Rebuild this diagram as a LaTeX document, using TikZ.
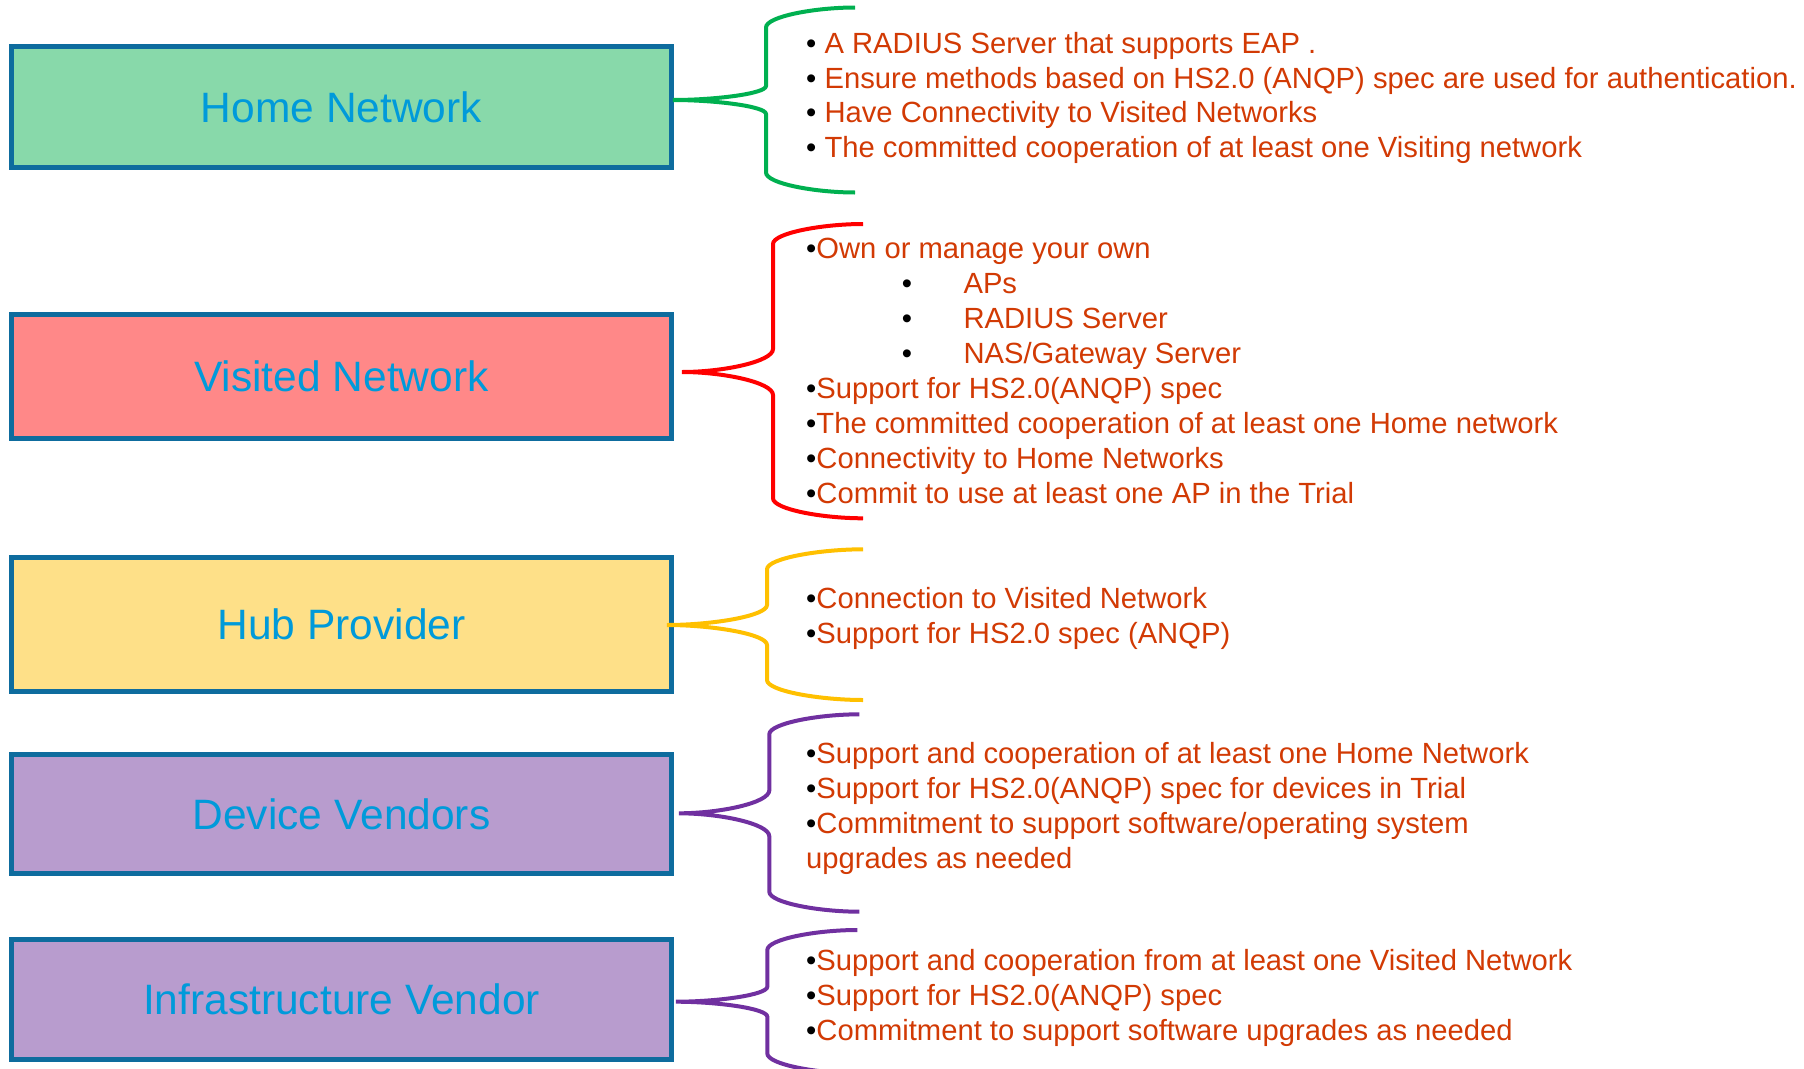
\documentclass[tikz,border=0pt]{standalone}
\usepackage{fontspec}
\setmainfont{Liberation Sans}

\definecolor{boxedge}{RGB}{14,108,158}
\definecolor{labelblue}{RGB}{0,154,218}
\definecolor{itemred}{RGB}{210,58,4}
\definecolor{homefill}{RGB}{136,217,170}
\definecolor{visitfill}{RGB}{255,136,136}
\definecolor{hubfill}{RGB}{254,224,136}
\definecolor{vendorfill}{RGB}{184,156,206}
\definecolor{bracegreen}{RGB}{0,176,80}
\definecolor{bracered}{RGB}{255,0,0}
\definecolor{braceyellow}{RGB}{255,192,0}
\definecolor{bracepurple}{RGB}{112,48,160}

% black bullet inside coloured item text
\newcommand{\itembul}{{\color{black}•}}
% indented sub-item
\newcommand{\nestedbul}[1]{\hspace*{95.7pt}\itembul\hspace*{51.4pt}#1}

% curly brace: #1 style, #2 tip name, #3/#4 tip x/y, #5 spine x,
% #6 arm end x, #7 top arm y, #8 bottom arm y, #9 radius of the middle bends
\newcommand{\curlybrace}[9]{%
  \coordinate (#2) at (#3,#4);
  \draw[#1] (#6,#7)
    .. controls ({#5+0.55*(#6-#5)},#7) and (#5,{#7+9}) .. (#5,{#7+20})
    -- (#5,{#4-#9})
    .. controls (#5,{#4-0.45*#9}) and ({#3+0.45*(#5-#3)},#4) .. (#2)
    .. controls ({#3+0.45*(#5-#3)},#4) and (#5,{#4+0.45*#9}) .. (#5,{#4+#9})
    -- (#5,{#8-20})
    .. controls (#5,{#8-9}) and ({#5+0.55*(#6-#5)},#8) .. (#6,#8);
}

\begin{document}
\begin{tikzpicture}[x=1pt,y=-1pt,
  box/.style={draw=boxedge, line width=5pt, text=labelblue, inner sep=0pt,
    minimum width=660pt, font=\fontsize{42.5}{50}\selectfont},
  items/.style={anchor=base west, inner sep=0pt, text=itemred,
    font=\fontsize{29.2}{35}\selectfont},
  bracestroke/.style={line width=4pt}]

\useasboundingbox (0,0) rectangle (1804,1068);
\fill[white] (0,0) rectangle (1804,1068);
\clip (0,0) rectangle (1804,1068);

% role boxes
\node[box, fill=homefill,   minimum height=120.2pt] (hn) at (341.5,107)   {Home Network};
\node[box, fill=visitfill,  minimum height=123.4pt] (vn) at (341.5,376.5) {Visited Network};
\node[box, fill=hubfill,    minimum height=134.3pt] (hp) at (341.5,624.7) {Hub Provider};
\node[box, fill=vendorfill, minimum height=119.5pt] (dv) at (341.5,813.8) {Device Vendors};
\node[box, fill=vendorfill, minimum height=119.4pt] (iv) at (341.5,999.5) {Infrastructure Vendor};

% requirement lists
\node[items] (hn-list) at (806,53.5) {\fontsize{29.2}{34.7}\selectfont
  \begin{tabular}[t]{@{}l@{}}
  \itembul\ A RADIUS Server that supports EAP .\\
  \itembul\ Ensure methods based on HS2.0 (ANQP) spec are used for authentication.\\
  \itembul\ Have Connectivity to Visited Networks\\
  \itembul\ The committed cooperation of at least one Visiting network
  \end{tabular}};

\node[items] (vn-list) at (806,258.6) {%
  \begin{tabular}[t]{@{}l@{}}
  \itembul Own or manage your own\\
  \nestedbul{APs}\\
  \nestedbul{RADIUS Server}\\
  \nestedbul{NAS/Gateway Server}\\
  \itembul Support for HS2.0(ANQP) spec\\
  \itembul The committed cooperation of at least one Home network\\
  \itembul Connectivity to Home Networks\\
  \itembul Commit to use at least one AP in the Trial
  \end{tabular}};

\node[items] (hp-list) at (806,608.6) {%
  \begin{tabular}[t]{@{}l@{}}
  \itembul Connection to Visited Network\\
  \itembul Support for HS2.0 spec (ANQP)
  \end{tabular}};

\node[items] (dv-list) at (806,763.6) {%
  \begin{tabular}[t]{@{}l@{}}
  \itembul Support and cooperation of at least one Home Network\\
  \itembul Support for HS2.0(ANQP) spec for devices in Trial\\
  \itembul Commitment to support software/operating system\\
  upgrades as needed
  \end{tabular}};

\node[items] (iv-list) at (806,970.3) {%
  \begin{tabular}[t]{@{}l@{}}
  \itembul Support and cooperation from at least one Visited Network\\
  \itembul Support for HS2.0(ANQP) spec\\
  \itembul Commitment to support software upgrades as needed
  \end{tabular}};

% braces joining each box to its list
\curlybrace{bracestroke, bracegreen}{hn-tip}{673}{100}{766}{855}{7.5}{192.5}{14}
\curlybrace{bracestroke, bracered}{vn-tip}{682}{372}{773}{863}{224}{518.3}{23}
\curlybrace{bracestroke, braceyellow}{hp-tip}{667}{625}{767}{863}{549.3}{700}{20}
\curlybrace{bracestroke, bracepurple}{dv-tip}{679}{813.3}{769.3}{859.3}{714.3}{911.7}{23}
\curlybrace{bracestroke, bracepurple}{iv-tip}{676}{1001.7}{767.3}{857.3}{930}{1073.4}{15}

\end{tikzpicture}
\end{document}
